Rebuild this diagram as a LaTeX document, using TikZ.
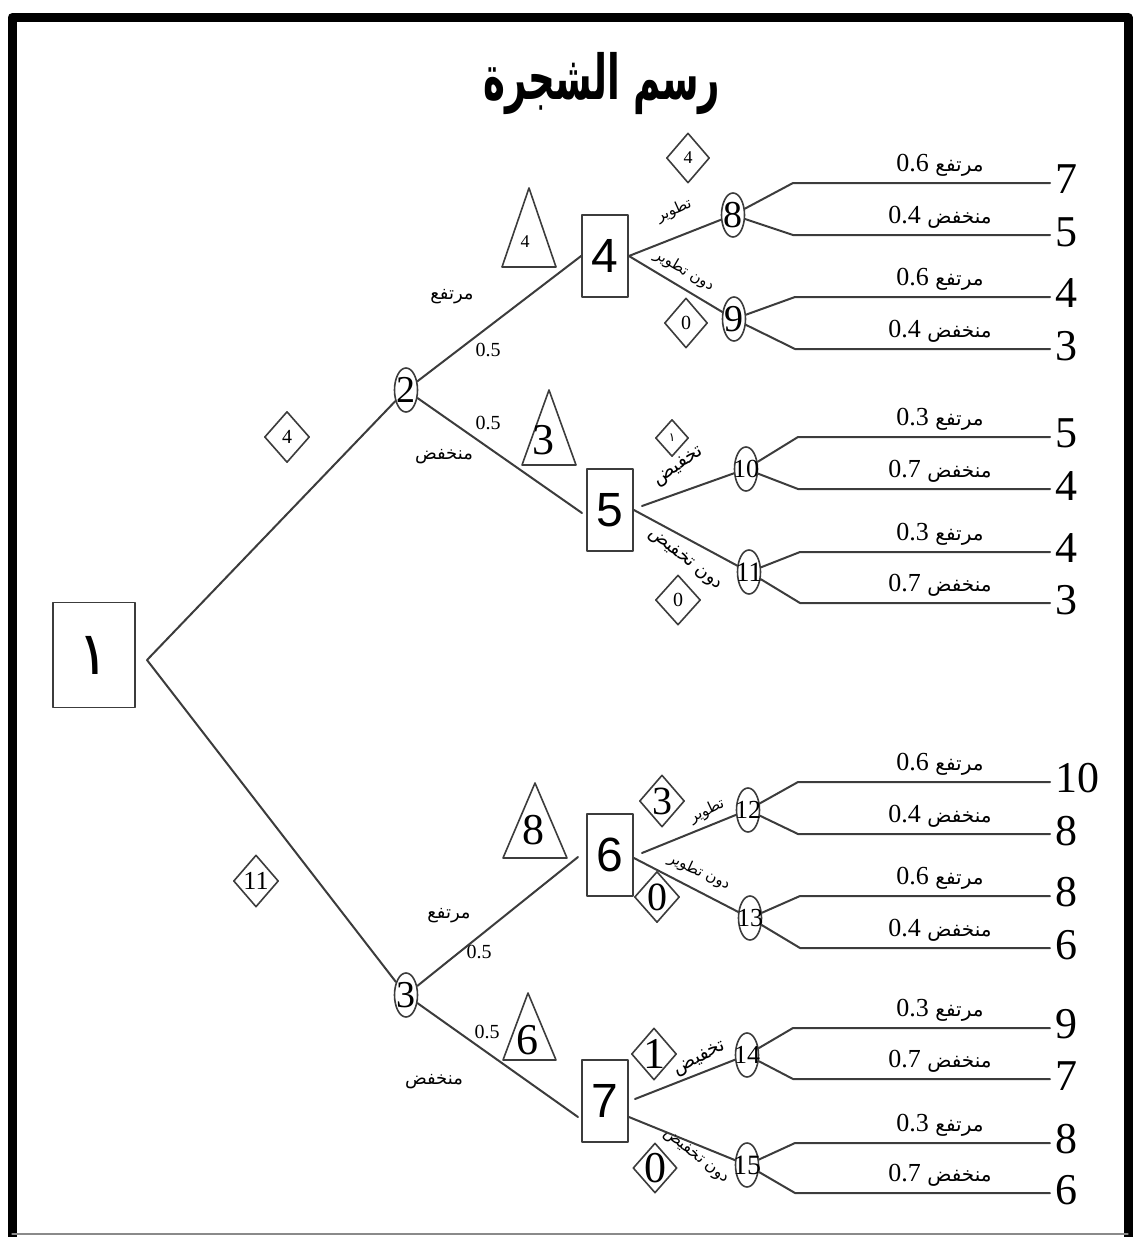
\documentclass[tikz,border=0pt]{standalone}
\usepackage{fontspec}
\setmainfont{Liberation Serif}
\newfontfamily\arabicfont[Script=Arabic]{DejaVu Sans}
\newfontfamily\boxfont{Liberation Sans}
\TeXXeTstate=1
\newcommand{\artxt}[1]{{\arabicfont\beginR #1\endR}}
\usetikzlibrary{shapes.geometric}
\begin{document}
\begin{tikzpicture}[x=0.5pt, y=-0.5pt, line cap=round, line join=round,
  edge/.style={draw=treeline, line width=1pt},
  decbox/.style={draw=treeline, line width=0.9pt, rectangle, minimum width=23pt, minimum height=41pt, inner sep=0pt, font=\boxfont\fontsize{24}{24}\selectfont},
  chance/.style={draw=treeline, line width=0.8pt, ellipse, minimum width=11.5pt, minimum height=22pt, inner sep=0pt},
  valdiam/.style={draw=treeline, line width=0.8pt, diamond, inner sep=0pt},
  payoff/.style={anchor=west, inner sep=0pt, font=\fontsize{22}{22}\selectfont},
  problab/.style={anchor=south, inner sep=1pt, font=\fontsize{13}{13}\selectfont},
  brlab/.style={inner sep=0pt, font=\arabicfont\fontsize{9}{9}\selectfont},
  prsmall/.style={inner sep=0pt, font=\fontsize{10}{10}\selectfont}]
\definecolor{treeline}{HTML}{3C3C3C}
\useasboundingbox (0,0) rectangle (1134,1237);
% ---- frame and title ----
\draw[black, line width=4.5pt, line cap=rect] (12,1240) -- (12,17.5) -- (1128,17.5) -- (1128,1240);
\draw[treeline!60, line width=0.6pt] (12,1234) -- (1128,1234);
\node[font=\arabicfont\bfseries\fontsize{31}{31}\selectfont, inner sep=0pt] (title) at (602,84) {\scalebox{0.6}[1]{\artxt{رسم الشجرة}}};
% ---- root decision and first chance nodes ----
\node[decbox, minimum width=41pt, minimum height=52.5pt, font=\arabicfont\fontsize{30}{30}\selectfont] (b1) at (94,655) {١};
\foreach \n/\x/\y/\fs in {2/406/390/19, 3/406/995/19, 8/733/215/19, 9/734/319/19,
  10/746/469/13, 11/749/572/14, 12/748/810/13, 13/750/918/13, 14/747/1055/13, 15/747/1165/14}
  \node[chance, font=\fontsize{\fs}{\fs}\selectfont] (c\n) at (\x,\y) {\makebox[0pt]{\n}};
\foreach \n/\x/\y in {4/605/256, 5/610/510, 6/610/855, 7/605/1101}
  \node[decbox] (b\n) at (\x,\y) {\n};
\coordinate (apex) at (147,660);
\draw[edge] (c2) -- (apex) -- (c3);
% ---- second stage ----
\coordinate (b5in) at (582,513);
\coordinate (b6in) at (578,857);
\coordinate (b7in) at (578,1117);
\draw[edge] (c2) -- (b4.west);
\draw[edge] (c2) -- (b5in);
\draw[edge] (c3) -- (b6in);
\draw[edge] (c3) -- (b7in);
\node[brlab] (l2up) at (452,297) {\artxt{مرتفع}};
\node[prsmall] (p2up) at (488,350) {0.5};
\node[prsmall] (p2dn) at (488,423) {0.5};
\node[brlab] (l2dn) at (444,457) {\artxt{منخفض}};
\node[brlab] (l3up) at (449,916) {\artxt{مرتفع}};
\node[prsmall] (p3up) at (479,952) {0.5};
\node[prsmall] (p3dn) at (487,1032) {0.5};
\node[brlab] (l3dn) at (434,1082) {\artxt{منخفض}};
% ---- triangles (expected values) ----
\foreach \val/\ax/\ay/\by/\lx/\rx/\tx/\ty/\fs in {4/529/188/267/502/556/525/242/9,
  3/549/390/465/522/576/543/440/22, 8/535/783/858/503/567/533/830/22, 6/528/993/1060/503/556/527/1040/22} {
  \draw[edge, line width=0.8pt] (\ax,\ay) -- (\rx,\by) -- (\lx,\by) -- cycle;
  \node[inner sep=0pt, font=\fontsize{\fs}{\fs}\selectfont] (tri\val) at (\tx,\ty) {\val};
}
% ---- decisions to chance nodes ----
\coordinate (b5up) at (642,506);
\coordinate (b6up) at (642,853);
\coordinate (b7up) at (635,1099);
\draw[edge] (b4.east) -- (c8);
\draw[edge] (b4.east) -- (c9);
\draw[edge] (b5up) -- (c10);
\draw[edge] (b5.east) -- (c11);
\draw[edge] (b6up) -- (c12);
\draw[edge] ([yshift=-1.5pt]b6.east) -- (c13);
\draw[edge] (b7up) -- (c14);
\draw[edge] (b7in -| b7.east) -- (c15);
\node[brlab, font=\arabicfont\fontsize{7.5}{7.5}\selectfont, rotate=24] (l8) at (674,211) {\artxt{تطوير}};
\node[brlab, font=\arabicfont\fontsize{7.5}{7.5}\selectfont, rotate=-30] (l9) at (684,271) {\artxt{دون تطوير}};
\node[brlab, font=\arabicfont\fontsize{9.5}{9.5}\selectfont, rotate=35] (l10) at (679,467) {\artxt{تخفيض}};
\node[brlab, font=\arabicfont\fontsize{9}{9}\selectfont, rotate=-38] (l11) at (685,560) {\artxt{دون تخفيض}};
\node[brlab, font=\arabicfont\fontsize{7.5}{7.5}\selectfont, rotate=25] (l12) at (707,811) {\artxt{تطوير}};
\node[brlab, font=\arabicfont\fontsize{7.5}{7.5}\selectfont, rotate=-25] (l13) at (699,872) {\artxt{دون تطوير}};
\node[brlab, font=\arabicfont\fontsize{9.5}{9.5}\selectfont, rotate=27] (l14) at (700,1059) {\artxt{تخفيض}};
\node[brlab, font=\arabicfont\fontsize{8}{8}\selectfont, rotate=-38] (l15) at (696,1157) {\artxt{دون تخفيض}};
% ---- diamonds (costs) ----
\foreach \nm/\x/\y/\w/\h/\fs/\lab in {dl2/287/437/22.5/25.5/10/4, dl3/256/881/22.5/26/13/11,
  d8/688/158/21.5/25/9/4, d9/686/323/21.5/25/10/0, d11/678/600/22.5/25/10/0,
  d12/662/801/22.5/26/20/3, d13/657/897/22.5/25.5/20/0, d14/654/1054/22.5/26/22/1, d15/655/1168/22/25/22/0}
  \node[valdiam, minimum width=\w pt, minimum height=\h pt, font=\fontsize{\fs}{\fs}\selectfont] (\nm) at (\x,\y) {\makebox[0pt]{\lab}};
\node[valdiam, minimum width=16.5pt, minimum height=18.5pt, font=\arabicfont\fontsize{6}{6}\selectfont] (d10) at (672,438) {\makebox[0pt]{١}};
% ---- outcomes ----
\foreach \n/\yu/\yl/\vu/\vl/\pu/\pl/\bx in {8/183/235/7/5/0.6/0.4/793, 9/297/349/4/3/0.6/0.4/795,
  10/437/489/5/4/0.3/0.7/798, 11/552/603/4/3/0.3/0.7/800, 12/782/834/10/8/0.6/0.4/798,
  13/896/948/8/6/0.6/0.4/800, 14/1028/1079/9/7/0.3/0.7/793, 15/1143/1193/8/6/0.3/0.7/795} {
  \coordinate (e\n-u) at (1050,\yu);
  \coordinate (e\n-l) at (1050,\yl);
  \draw[edge] (c\n) -- (\bx,\yu) -- (e\n-u);
  \draw[edge] (c\n) -- (\bx,\yl) -- (e\n-l);
  \node[payoff] (v\n-u) at (1055,\yu-4) {\vu};
  \node[payoff] (v\n-l) at (1055,\yl-3) {\vl};
  \node[problab] (q\n-u) at (940,\yu-4) {\pu\ \artxt{\fontsize{10}{10}\selectfont مرتفع}};
  \node[problab] (q\n-l) at (940,\yl-4) {\pl\ \artxt{\fontsize{10}{10}\selectfont منخفض}};
}
\end{tikzpicture}
\end{document}
